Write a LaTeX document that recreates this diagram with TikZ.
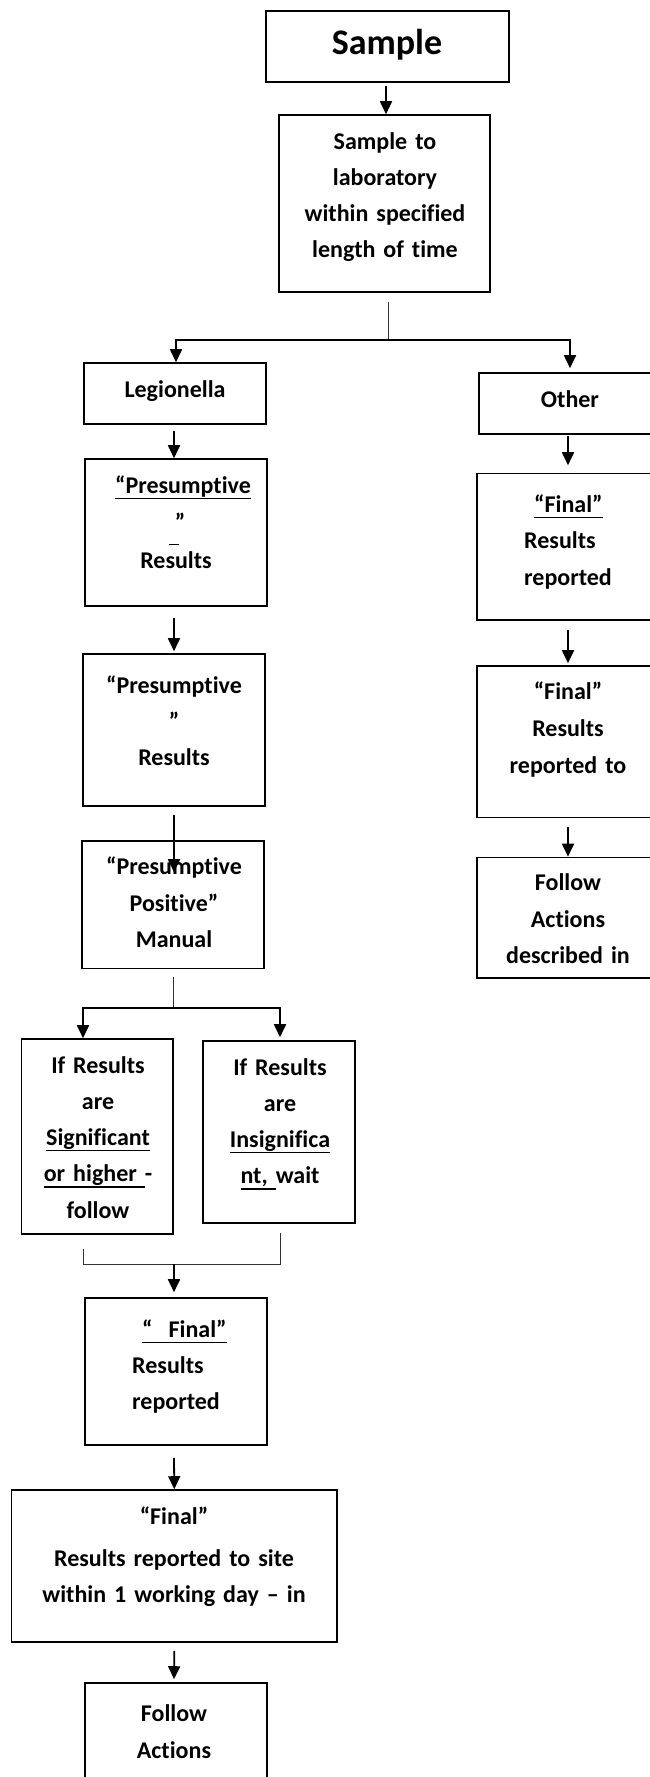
\documentclass[tikz,border=0pt]{standalone}
\usepackage{fontspec}
\setmainfont{Carlito}[Ligatures=NoCommon]
\usetikzlibrary{arrows.meta}
\newcommand\myul[1]{\leavevmode\setbox0\hbox{#1}\rlap{\rule[-5.8pt]{\wd0}{1.3pt}}\box0}
\begin{document}
\begin{tikzpicture}[x=1pt,y=-1pt,
  box/.style={draw, line width=1.6pt, inner sep=0pt},
  txt/.style={font=\bfseries\fontsize{24}{36}\selectfont, inner sep=0pt, anchor=base, align=center},
  txtf/.style={font=\bfseries\fontsize{24}{36.5}\selectfont, inner sep=0pt, anchor=base, align=center},
  arr/.style={line width=1.8pt, -{Triangle[width=12pt,length=13pt]}},
  thinl/.style={line width=1pt, draw=black!80},
]
\clip (0,0) rectangle (650,1777);
\fill[white] (0,0) rectangle (650,1777);

% boxes
\node[box, minimum width=243pt, minimum height=71pt] (sample) at (387.5,46.5) {};
\node[box, minimum width=211pt, minimum height=177pt] (b2) at (384.5,203.5) {};
\node[box, minimum width=182pt, minimum height=61pt] (leg) at (175,393.5) {};
\node[box, minimum width=182pt, minimum height=61pt] (oth) at (570,403.5) {};
\node[box, minimum width=182pt, minimum height=147pt] (p1) at (176,532.5) {};
\node[box, minimum width=182pt, minimum height=152pt] (p2) at (174,730) {};
\node[box, minimum width=182pt, minimum height=127.6pt] (p3) at (173,904.8) {};
\node[box, minimum width=184pt, minimum height=146.4pt] (f1) at (569,546.8) {};
\node[box, minimum width=184pt, minimum height=151.5pt] (f2) at (569,741.75) {};
\node[box, minimum width=184pt, minimum height=120.5pt] (f3) at (569,917.75) {};
\node[box, minimum width=151.4pt, minimum height=195pt] (sb) at (97.3,1136.5) {};
\node[box, minimum width=152pt, minimum height=182pt] (ib) at (279,1132) {};
\node[box, minimum width=182pt, minimum height=147pt] (f4) at (176,1371.5) {};
\node[box, minimum width=325.4pt, minimum height=152pt] (w) at (174.3,1566) {};
\node[box, minimum width=182pt, minimum height=140pt] (fa) at (176,1753) {};

% texts
\node[inner sep=0pt, anchor=base, font=\bfseries\fontsize{36}{40}\selectfont] (tsample) at (387,55) {Sample};
\node[txt, text width=200pt] (tb2) at (385,149) {Sample to\\laboratory\\within specified\\length of time};
\node[txt] (tleg) at (175,397) {Legionella};
\node[txt] (toth) at (570,407) {Other};
\node[txt] (tp1a) at (183,493) {\myul{“Presumptive}};
\node[txt] (tp1b) at (180,530) {”};
\node[txt] (tp1c) at (174,539) {\myul{\hspace{10pt}}};
\node[txt] (tp1d) at (176,568) {Results};
\node[txt, text width=180pt] (tp2) at (174,693) {“Presumptive\\”\\Results};
\node[txtf, text width=180pt] (tp3) at (174,874.5) {“Presumptive\\Positive”\\Manual};
\node[txtf, text width=110pt, align=left, anchor=base west] (tf1) at (524,512) {\hspace*{10pt}\myul{“Final”}\\Results\\reported};
\node[txtf, text width=180pt, font=\bfseries\fontsize{24}{37.2}\selectfont] (tf2) at (568,699.5) {“Final”\\Results\\reported to};
\node[txtf, text width=180pt] (tf3) at (568,890.6) {Follow\\Actions\\described in};
\node[txt, text width=150pt, font=\bfseries\fontsize{24}{36.3}\selectfont] (tsb) at (98,1073) {If Results\\are\\\myul{Significant}\\\myul{or higher\ }-\\follow};
\node[txt, text width=150pt, font=\bfseries\fontsize{24}{36.3}\selectfont] (tib) at (280,1075) {If Results\\are\\\myul{Insignifica}\\\myul{nt,\ }wait};
\node[txt, text width=120pt, align=left, anchor=base west] (tf4) at (132,1337) {\hspace*{10pt}\myul{“\ \ Final”}\\Results\\reported};
\node[txt, text width=320pt] (tw) at (174,1524) {“Final”\\[6pt]Results reported to site\\within 1 working day – in};
\node[txt, text width=180pt, font=\bfseries\fontsize{24}{37}\selectfont] (tfa) at (174,1721) {Follow\\Actions};

% junctions
\coordinate (j1) at (388.5,340);
\coordinate (j2) at (173,1008);
\coordinate (m2) at (280,1264);
\coordinate (j3) at (174,1264);

% connectors
\draw[arr] ([xshift=-1.5pt,yshift=-3pt]sample.south) -- ([xshift=1.5pt]b2.north);
\draw[thinl] ([xshift=4pt,yshift=-9pt]b2.south) -- (j1);
\draw[arr] (j1) -| ([xshift=1pt]leg.north);
\draw[arr, shorten >=4pt] (j1) -| (oth.north);
\draw[arr] ([xshift=-1pt,yshift=-6pt]leg.south) -- ([xshift=-2pt]p1.north);
\draw[arr, shorten >=2pt] ([xshift=-2pt,yshift=-11pt]p1.south) -- (p2.north);
\draw[arr] ([yshift=-8pt]p2.south) -- ([xshift=1pt,yshift=-32pt]p3.north);
\draw[thinl] ([yshift=-7.5pt]p3.south) -- (j2);
\draw[arr] (j2) -| ([xshift=-14.3pt]sb.north);
\draw[arr, shorten >=3pt] (j2) -| ([xshift=1pt]ib.north);
\draw[thinl] ([xshift=-14.3pt,yshift=-14pt]sb.south) |- (m2) -- ([xshift=1pt,yshift=-9pt]ib.south);
\draw[arr, shorten >=5pt] (j3) -- ([xshift=-2pt]f4.north);
\draw[arr] ([xshift=-2pt,yshift=-12pt]f4.south) -- (w.north);
\draw[arr, shorten >=3pt] ([yshift=-8pt]w.south) -- ([xshift=-2pt]fa.north);
\draw[arr, shorten >=7.6pt] ([xshift=-2pt,yshift=-1pt]oth.south) -- ([xshift=-1pt]f1.north);
\draw[arr, shorten >=2pt] ([xshift=-1pt,yshift=-9pt]f1.south) -- ([xshift=-1pt]f2.north);
\draw[arr] ([xshift=-1pt,yshift=-8.5pt]f2.south) -- ([xshift=-1pt]f3.north);
\end{tikzpicture}
\end{document}
